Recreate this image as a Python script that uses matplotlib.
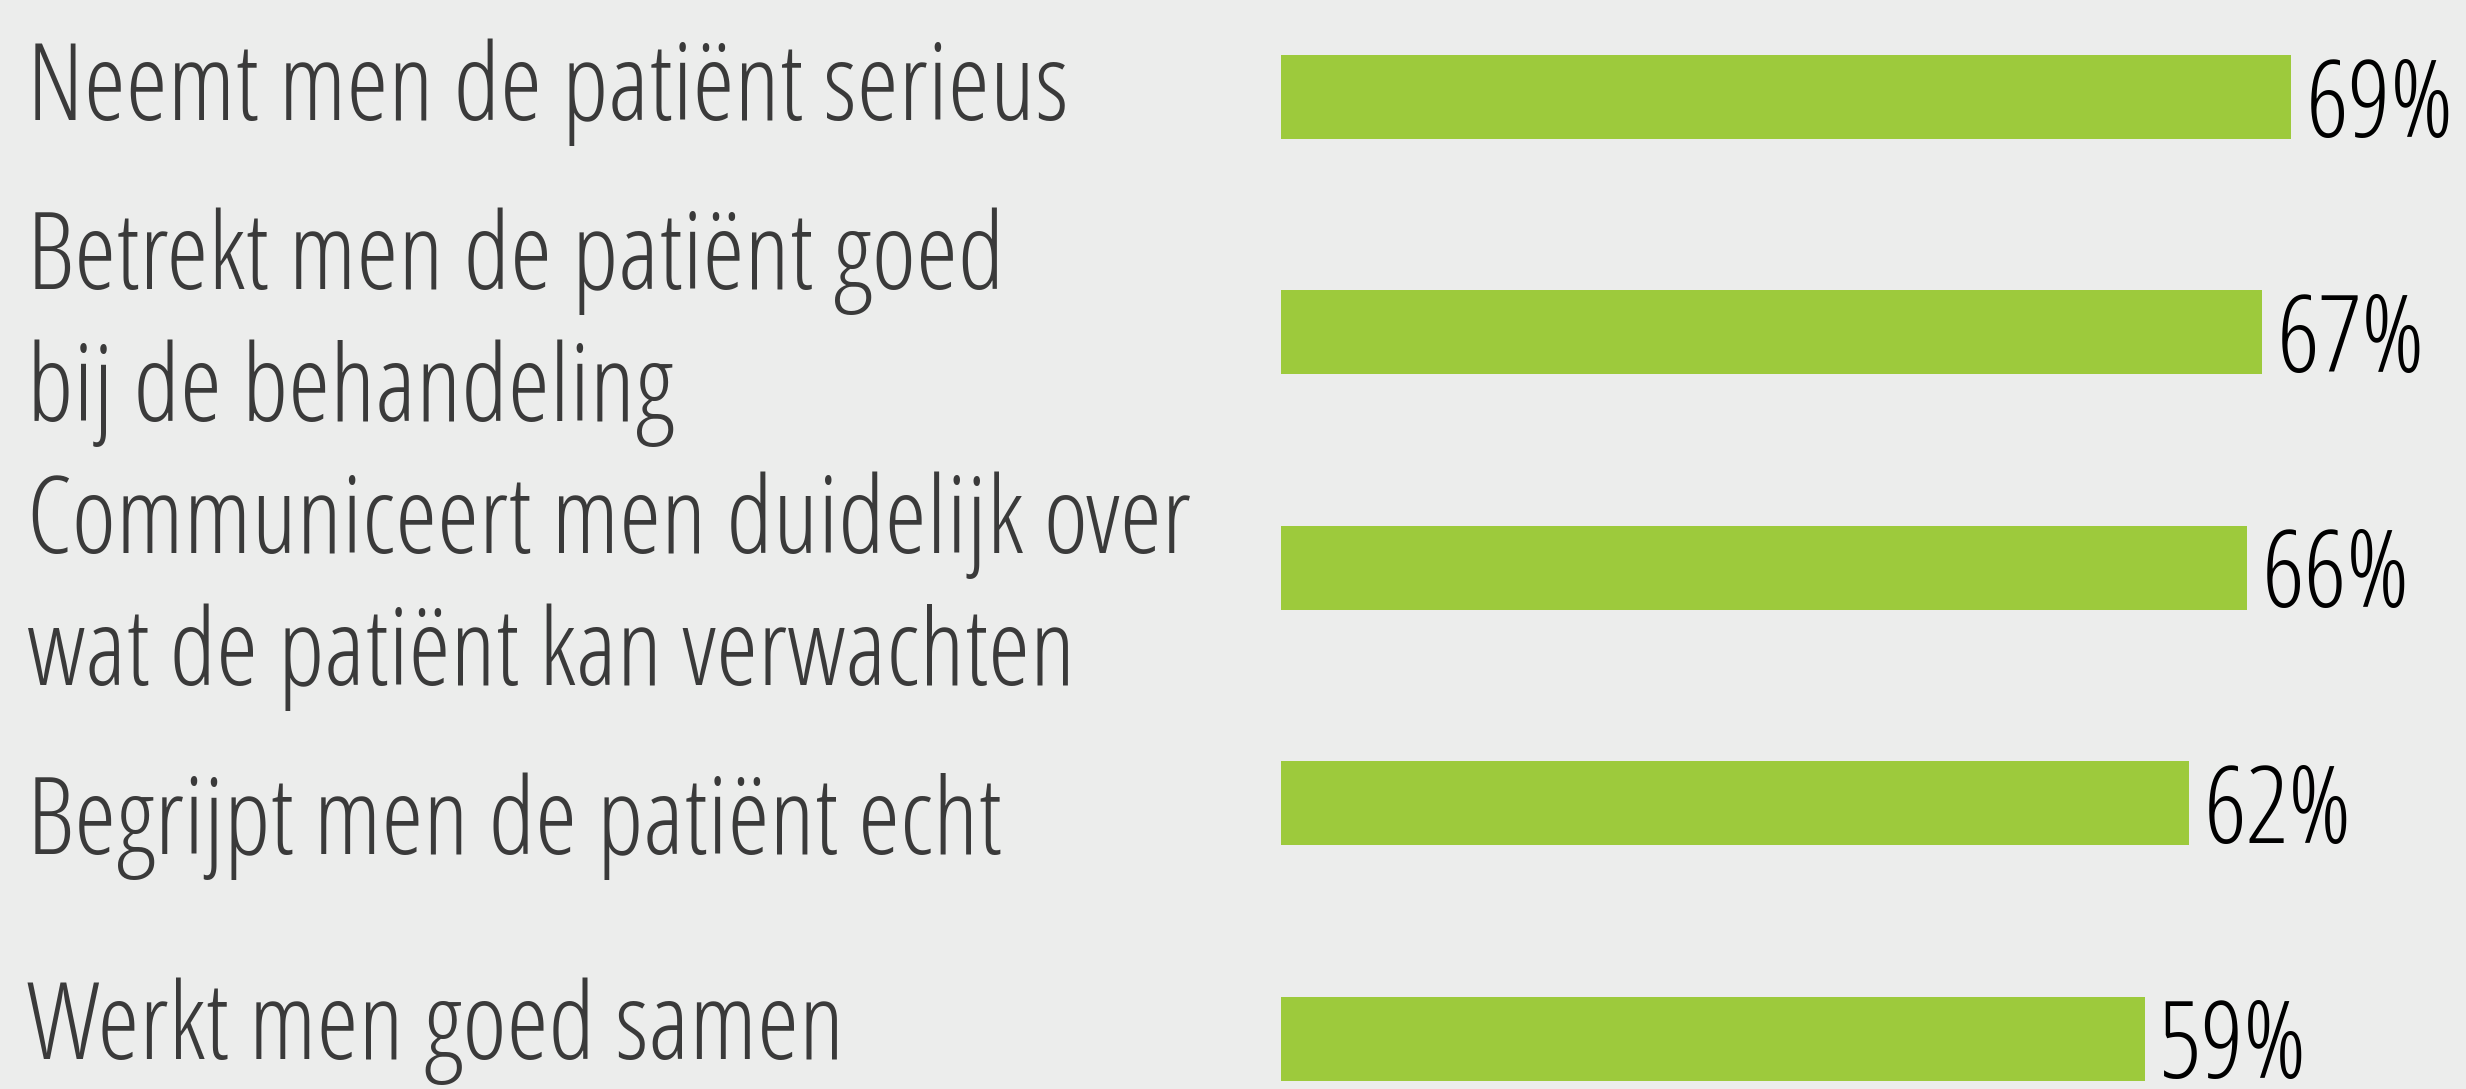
import numpy as np
from matplotlib import pyplot as plt
from matplotlib import font_manager
from matplotlib.transforms import blended_transform_factory

labels = [
    'Neemt men de patiënt serieus',
    'Betrekt men de patiënt goed\nbij de behandeling',
    'Communiceert men duidelijk over\nwat de patiënt kan verwachten',
    'Begrijpt men de patiënt echt',
    'Werkt men goed samen',
]
values = [69, 67, 66, 62, 59]

# small vertical nudges of the left labels (in rows), as in the original layout
label_shift = [-0.02, -0.02, 0.10, 0.10, -0.03]

bg_color = '#ecedec'
bar_color = '#9dca3c'
text_color = '#3a3a3a'


def condensed_light_font(size):
    # the chart uses Open Sans Condensed Light
    for f in font_manager.fontManager.ttflist:
        if 'CondLight' in f.fname and 'Italic' not in f.fname:
            return font_manager.FontProperties(fname=f.fname, size=size)
    return font_manager.FontProperties(family='Open Sans', weight='light', size=size * 0.6)


fp = condensed_light_font(76.8)

fig = plt.figure(figsize=(24.66, 10.89), dpi=100, facecolor=bg_color)
ax = fig.add_axes([0, 0, 1, 1])
ax.set_facecolor(bg_color)

px_per_pct = 14.64
row_px = 235.4
x_left = -1281 / px_per_pct
ax.set_xlim(x_left, x_left + 2466 / px_per_pct)
ax.set_ylim((1089 - 97) / row_px, -97 / row_px)

y = np.arange(len(values))
ax.barh(y, values, height=84 / row_px, color=bar_color)

trans = blended_transform_factory(ax.transAxes, ax.transData)
for i, (lab, v) in enumerate(zip(labels, values)):
    ax.text(0.011, i + label_shift[i], lab, transform=trans, ha='left', va='center',
            color=text_color, fontproperties=fp, linespacing=1.3)
    ax.text(v + 1.0, i + 0.05, f'{v}%', ha='left', va='center',
            color='black', fontproperties=fp)

ax.axis('off')

fig.savefig('out.png', dpi=100, facecolor=bg_color)
